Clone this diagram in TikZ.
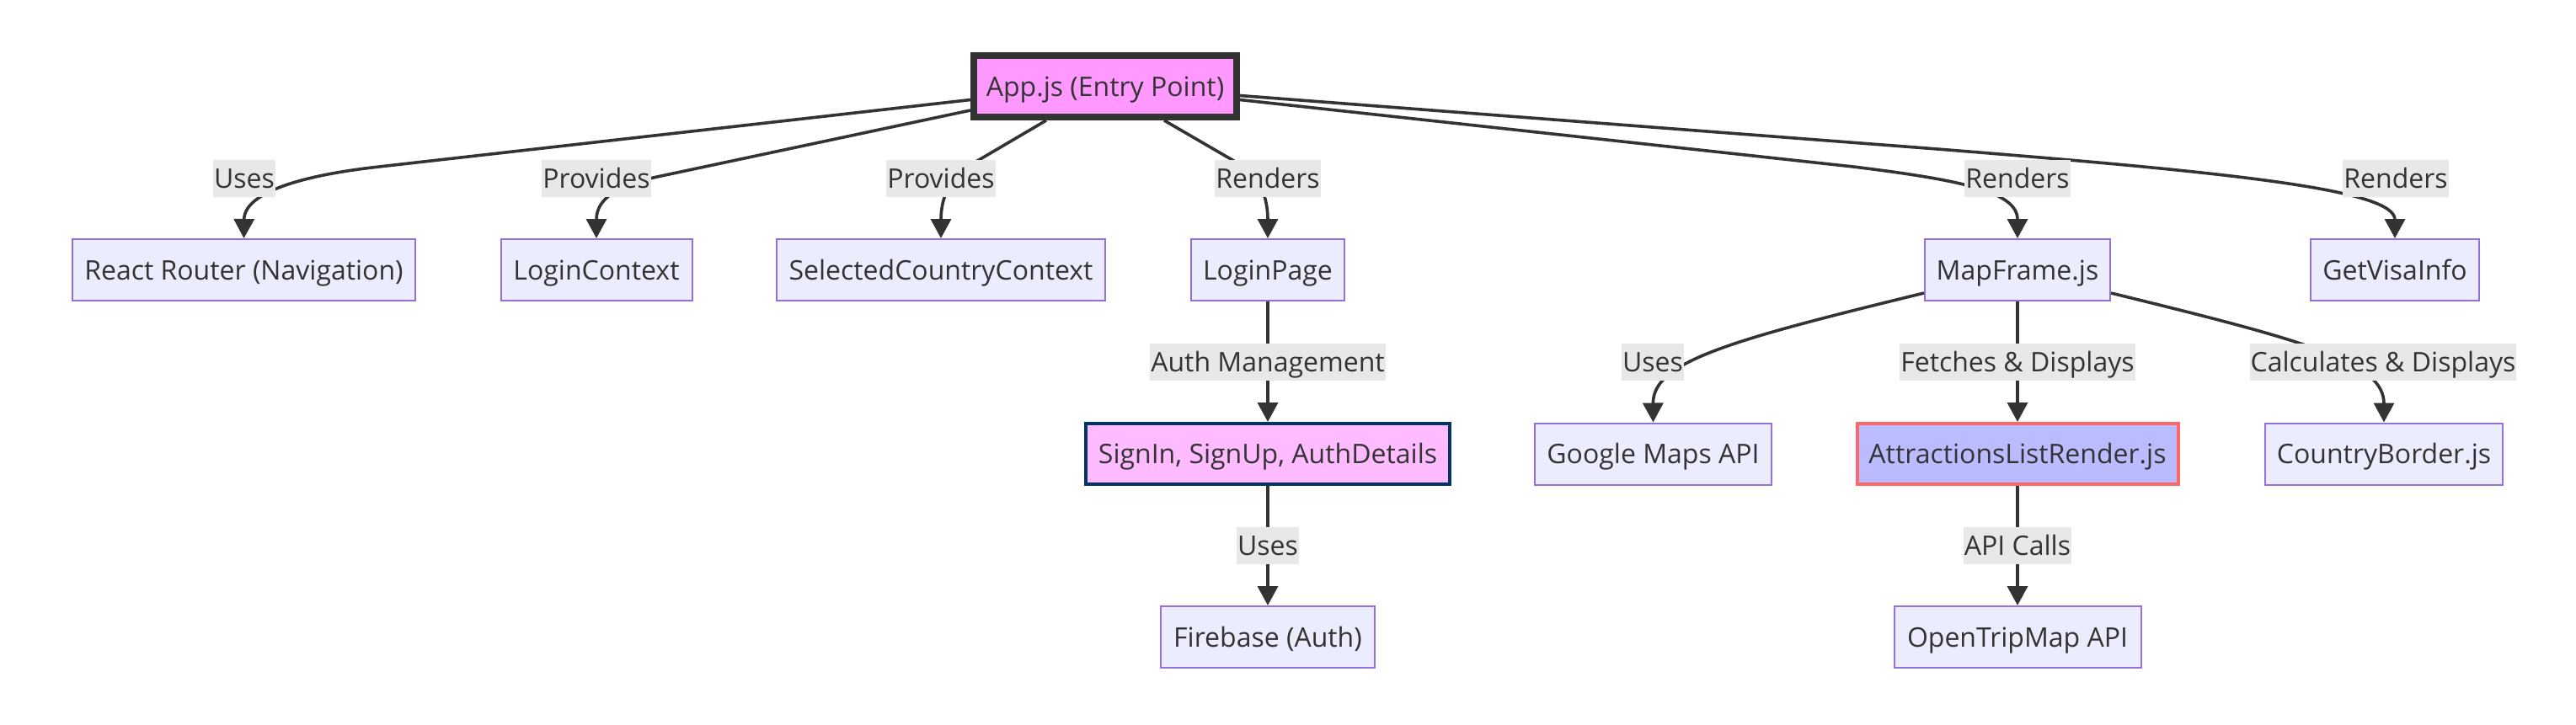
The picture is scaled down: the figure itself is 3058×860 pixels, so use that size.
\documentclass[tikz,border=0pt]{standalone}
\usepackage{fontspec}
\setmainfont{Open Sans}
\usetikzlibrary{arrows.meta,calc}
\definecolor{nfill}{HTML}{ECECFF}
\definecolor{nborder}{HTML}{9370DB}
\definecolor{appfill}{HTML}{FF99FF}
\definecolor{appborder}{HTML}{333333}
\definecolor{signfill}{HTML}{FFBBFF}
\definecolor{signborder}{HTML}{003366}
\definecolor{attrfill}{HTML}{BBBBFF}
\definecolor{attrborder}{HTML}{FF6666}
\definecolor{lfill}{HTML}{E8E8E8}
\definecolor{ecol}{HTML}{333333}
\definecolor{txt}{HTML}{333333}
\begin{document}
\begin{tikzpicture}[x=1pt,y=-1pt,
  font=\fontsize{32}{44}\selectfont, text=txt,
  box/.style={draw=nborder, fill=nfill, line width=2pt, inner sep=0pt,
    minimum height=73pt, text height=30pt, text depth=7pt},
  appbox/.style={box, draw=appborder, fill=appfill, line width=8pt},
  signbox/.style={box, draw=signborder, fill=signfill, line width=4pt, minimum height=72pt},
  attrbox/.style={box, draw=attrborder, fill=attrfill, line width=4pt, minimum height=72pt},
  lbl/.style={fill=lfill, inner xsep=1pt, inner ysep=0pt, minimum height=44pt,
    text height=30pt, text depth=7pt},
  edge/.style={draw=ecol, line width=3.6pt, -{Triangle[length=23pt,width=24pt]}}]
\fill[white] (0,0) rectangle (3058,860);
\useasboundingbox (0,0) rectangle (3058,860);

% nodes
\node[appbox, minimum width=312pt] (app) at (1312,102.5) {App.js (Entry Point)};
\node[box, minimum width=407pt] (router) at (289.5,320.5) {React Router (Navigation)};
\node[box, minimum width=227pt] (loginctx) at (708,320.5) {LoginContext};
\node[box, minimum width=390pt] (selctx) at (1117,320.5) {SelectedCountryContext};
\node[box, minimum width=182pt] (loginpage) at (1505,320.5) {LoginPage};
\node[box, minimum width=220pt] (mapframe) at (2395,320.5) {MapFrame.js};
\node[box, minimum width=200pt] (visa) at (2843,320.5) {GetVisaInfo};
\node[signbox, minimum width=432pt] (auth) at (1505,539) {SignIn, SignUp, AuthDetails};
\node[box, minimum width=254pt] (firebase) at (1505,756.5) {Firebase (Auth)};
\node[box, minimum width=281pt] (gmaps) at (1962.5,539) {Google Maps API};
\node[attrbox, minimum width=381pt] (attr) at (2395,539) {AttractionsListRender.js};
\node[box, minimum width=282pt] (border) at (2830,539) {CountryBorder.js};
\node[box, minimum width=293pt] (otm) at (2395,756.5) {OpenTripMap API};

% edges
\draw[edge] ($(app.west)+(0,16)$) -- (450,198) .. controls (360,208) and (290,228) .. (router.north);
\draw[edge] ($(app.west)+(0,28.5)$) -- (780,210) .. controls (735,220) and (708,235) .. (loginctx.north);
\draw[edge] ($(app.south)+(-70,0)$) -- (1150,197) .. controls (1128,210) and (1117,235) .. (selctx.north);
\draw[edge] ($(app.south)+(70,0)$) -- (1475,197) .. controls (1495,208) and (1505,235) .. (loginpage.north);
\draw[edge] ($(app.east)+(0,16)$) -- (2200,198) .. controls (2330,214) and (2395,228) .. (mapframe.north);
\draw[edge] ($(app.east)+(0,11)$) -- (2300,177) .. controls (2650,205) and (2843,225) .. (visa.north);
\draw[edge] (loginpage) -- (auth);
\draw[edge] (auth) -- (firebase);
\draw[edge] ($(mapframe.south west)+(0,-10)$) .. controls (2050,405) and (1962,430) .. (gmaps.north);
\draw[edge] (mapframe) -- (attr);
\draw[edge] ($(mapframe.south east)+(0,-10)$) .. controls (2739,405) and (2830,430) .. (border.north);
\draw[edge] (attr) -- (otm);

% edge labels
\node[lbl] (l1) at (290,212) {Uses};
\node[lbl] (l2) at (708,212) {Provides};
\node[lbl] (l3) at (1117,212) {Provides};
\node[lbl] (l4) at (1505,212) {Renders};
\node[lbl] (l5) at (2395,212) {Renders};
\node[lbl] (l6) at (2844,212) {Renders};
\node[lbl] (l7) at (1505,430) {Auth Management};
\node[lbl] (l8) at (1962,430) {Uses};
\node[lbl] (l9) at (2395,430) {Fetches \& Displays};
\node[lbl] (l10) at (2829,430) {Calculates \& Displays};
\node[lbl] (l11) at (1505,648) {Uses};
\node[lbl] (l12) at (2395,648) {API Calls};
\end{tikzpicture}
\end{document}
